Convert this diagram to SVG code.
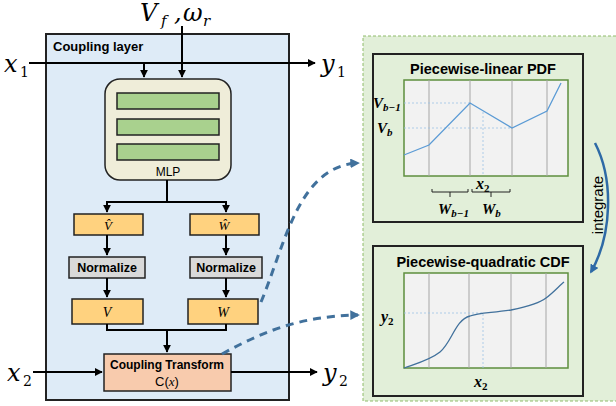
<svg xmlns="http://www.w3.org/2000/svg" width="616" height="406" viewBox="0 0 616 406">
<defs>
<marker id="ah" viewBox="0 0 10 10" refX="9" refY="5" markerWidth="4" markerHeight="4" orient="auto" markerUnits="strokeWidth"><path d="M0,0 L10,5 L0,10 z" fill="#000"/></marker>
<marker id="ahb" viewBox="0 0 10 10" refX="8" refY="5" markerWidth="3.2" markerHeight="3.2" orient="auto" markerUnits="strokeWidth"><path d="M0,0 L10,5 L0,10 z" fill="#41719c"/></marker>
<marker id="ahi" viewBox="0 0 10 10" refX="8" refY="5" markerWidth="3.6" markerHeight="3.6" orient="auto" markerUnits="strokeWidth"><path d="M0,0 L10,5 L0,10 z" fill="#2e6aa6"/></marker>
</defs>
<style>
.sans{font-family:"Liberation Sans",Arial,sans-serif}
.b{font-weight:bold}
.math{font-family:"Liberation Serif","Times New Roman",serif;font-style:italic}
.big{font-family:"DejaVu Serif","Liberation Serif",serif;font-style:italic;font-size:24px}
.bs{font-family:"DejaVu Serif","Liberation Serif",serif;font-style:italic;font-size:15px}
.sub{font-family:"DejaVu Serif","Liberation Serif",serif;font-size:14px}
.mb{font-family:"Liberation Serif","Times New Roman",serif;font-style:italic;font-weight:bold}
.ln{stroke:#000;stroke-width:2;fill:none}
.box{stroke:#222;stroke-width:1.5}
.orange{fill:#ffd27f}
.norm{fill:#d9d9d9}
.bar{fill:#a9d18e;stroke:#222;stroke-width:1.5}
.plot{fill:#f2f2f2;stroke:#5e8e3e;stroke-width:1.5}
.grid{stroke:#a6a6a6;stroke-width:1}
.dot{stroke:#9dc3e6;stroke-width:0.8;stroke-dasharray:2 2;fill:none}
.dash{stroke:#41719c;stroke-width:3;stroke-dasharray:8 6;fill:none}
</style>
<rect width="616" height="406" fill="#fff"/>

<g id="coupling-layer">
<rect x="46" y="34" width="243" height="366" fill="#deebf7" stroke="#222" stroke-width="2"/>
<text x="53" y="51" class="sans b" font-size="13">Coupling layer</text>
</g>

<g id="right-panel">
<rect x="363" y="36" width="260" height="365" fill="#e2efd9" stroke="#8fbc6a" stroke-width="1" stroke-dasharray="3 2"/>
</g>

<g id="labels">
<text x="140" y="21" class="big">V</text>
<text x="161" y="26" class="bs">f</text>
<text x="174" y="21" class="big">,</text>
<text x="183" y="21" class="big">ω</text>
<text x="203" y="26" class="bs">r</text>
<text x="4" y="72" class="big">x</text><text x="20" y="77" class="sub">1</text>
<text x="321" y="72" class="big">y</text><text x="337" y="77" class="sub">1</text>
<text x="7" y="381" class="big">x</text><text x="23" y="386" class="sub">2</text>
<text x="323" y="381" class="big">y</text><text x="339" y="386" class="sub">2</text>
</g>

<g id="mlp">
<rect x="105" y="79" width="126" height="101" rx="15" fill="#efedd9" stroke="#222" stroke-width="1.5"/>
<rect x="117" y="93" width="102" height="16" class="bar"/>
<rect x="117" y="119" width="102" height="16" class="bar"/>
<rect x="117" y="144" width="102" height="16" class="bar"/>
<text x="168" y="176" class="sans" font-size="12" text-anchor="middle">MLP</text>
</g>

<g id="v-hat">
<rect x="74" y="214" width="69" height="21" class="box orange"/>
<text x="108" y="230" class="math" font-size="13" text-anchor="middle">V̂</text>
</g>
<g id="w-hat">
<rect x="190" y="214" width="69" height="21" class="box orange"/>
<text x="224" y="230" class="math" font-size="13" text-anchor="middle">Ŵ</text>
</g>
<g id="normalize-left">
<rect x="69" y="257" width="76" height="21" class="box norm"/>
<text x="107" y="272" class="sans b" font-size="12.5" text-anchor="middle">Normalize</text>
</g>
<g id="normalize-right">
<rect x="190" y="257" width="72" height="21" class="box norm"/>
<text x="226" y="272" class="sans b" font-size="12.5" text-anchor="middle">Normalize</text>
</g>
<g id="v">
<rect x="72" y="299" width="71" height="25" class="box orange"/>
<text x="107" y="317" class="math" font-size="14" text-anchor="middle">V</text>
</g>
<g id="w">
<rect x="188" y="299" width="70" height="25" class="box orange"/>
<text x="223" y="317" class="math" font-size="14" text-anchor="middle">W</text>
</g>
<g id="coupling-transform">
<rect x="104" y="354" width="127" height="37" fill="#f8cbad" stroke="#222" stroke-width="1.5"/>
<text x="167" y="369" class="sans b" font-size="12" text-anchor="middle">Coupling Transform</text>
<text x="167" y="386" class="sans" font-size="13" text-anchor="middle">C(<tspan class="math">x</tspan>)</text>
</g>

<g id="pdf-panel">
<rect x="373" y="54" width="210" height="168" fill="none" stroke="#222" stroke-width="2"/>
<text x="483" y="74" class="sans b" font-size="14.5" text-anchor="middle">Piecewise-linear PDF</text>
<rect x="404" y="80" width="164" height="96" class="plot"/>
<line x1="429" y1="80" x2="429" y2="176" class="grid"/>
<line x1="470" y1="80" x2="470" y2="176" class="grid"/>
<line x1="512" y1="80" x2="512" y2="176" class="grid"/>
<line x1="547" y1="80" x2="547" y2="176" class="grid"/>
<path d="M404,103 H470 M404,128 H512 M483,112 V176" class="dot"/>
<polyline points="404,155 429,145 470,103 512,128 547,111 561,83" fill="none" stroke="#5b9bd5" stroke-width="1.3"/>
<text x="373" y="108" class="mb" font-size="15">V<tspan font-size="11" dy="3">b−1</tspan></text>
<text x="377" y="133" class="mb" font-size="15">V<tspan font-size="11" dy="3">b</tspan></text>
<text x="476" y="189" class="mb" font-size="16">x<tspan font-size="11" font-style="normal" dy="3">2</tspan></text>
<path d="M432,189 v3 H468 v-3 M450,192 v5 M472,189 v3 H510 v-3 M491,192 v5" fill="none" stroke="#222" stroke-width="1"/>
<text x="438" y="214" class="mb" font-size="15">W<tspan font-size="11" dy="3">b−1</tspan></text>
<text x="482" y="214" class="mb" font-size="15">W<tspan font-size="11" dy="3">b</tspan></text>
</g>

<g id="cdf-panel">
<rect x="373" y="246" width="210" height="150" fill="none" stroke="#222" stroke-width="2"/>
<text x="483" y="267" class="sans b" font-size="14.5" text-anchor="middle">Piecewise-quadratic CDF</text>
<rect x="404" y="273" width="164" height="95" class="plot"/>
<line x1="429" y1="273" x2="429" y2="368" class="grid"/>
<line x1="469" y1="273" x2="469" y2="368" class="grid"/>
<line x1="511" y1="273" x2="511" y2="368" class="grid"/>
<line x1="546" y1="273" x2="546" y2="368" class="grid"/>
<path d="M404,313 H483 V368" class="dot"/>
<path d="M404,368 C418,363 430,360 440,352 C452,342 455,320 470,316 C478,313 490,313 511,310 C530,306 540,303 546,298 C554,292 560,285 564,282" fill="none" stroke="#41719c" stroke-width="1.3"/>
<text x="381" y="322" class="mb" font-size="16">y<tspan font-size="11" font-style="normal" dy="3">2</tspan></text>
<text x="474" y="387" class="mb" font-size="16">x<tspan font-size="11" font-style="normal" dy="3">2</tspan></text>
</g>

<g id="integrate">
<path d="M595,143 C614,180 612,235 591,272" fill="none" stroke="#2e6aa6" stroke-width="2.5" marker-end="url(#ahi)"/>
<text transform="translate(603,205) rotate(-90)" class="sans" font-size="15" text-anchor="middle">integrate</text>
</g>

<g id="connectors">
<path d="M182,26 V77" class="ln" marker-end="url(#ah)"/>
<path d="M29,63 H315" class="ln" marker-end="url(#ah)"/>
<path d="M144,63 V77" class="ln" marker-end="url(#ah)"/>
<path d="M167,180 V202 M107,202 H226" class="ln"/>
<path d="M107,201 V212" class="ln" marker-end="url(#ah)"/>
<path d="M226,201 V212" class="ln" marker-end="url(#ah)"/>
<path d="M107,235 V255" class="ln" marker-end="url(#ah)"/>
<path d="M226,235 V255" class="ln" marker-end="url(#ah)"/>
<path d="M107,278 V297" class="ln" marker-end="url(#ah)"/>
<path d="M226,278 V297" class="ln" marker-end="url(#ah)"/>
<path d="M107,324 V330 H226 V324" class="ln"/>
<path d="M167,330 V352" class="ln" marker-end="url(#ah)"/>
<path d="M33,372 H102" class="ln" marker-end="url(#ah)"/>
<path d="M231,372 H317" class="ln" marker-end="url(#ah)"/>
<path d="M261,302 C285,245 298,166 358,163" class="dash" marker-end="url(#ahb)"/>
<path d="M222,354 C262,332 300,316 358,315" class="dash" marker-end="url(#ahb)"/>
</g>
</svg>
